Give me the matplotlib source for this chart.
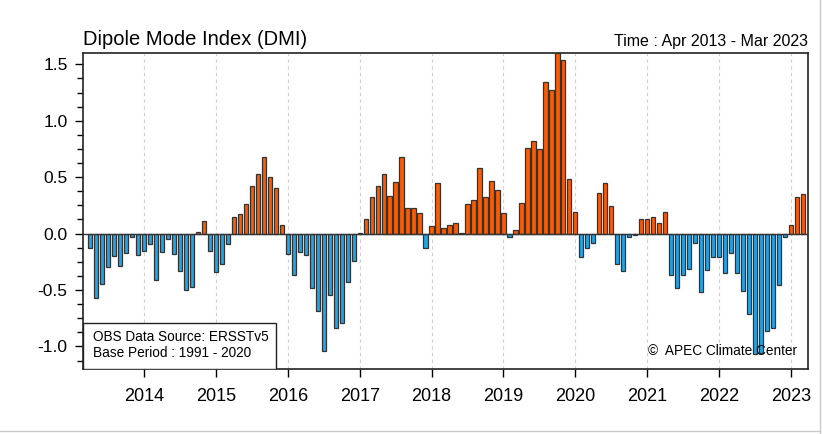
import numpy as np
import matplotlib
matplotlib.use("Agg")
import matplotlib.pyplot as plt
from matplotlib.patches import Rectangle
from matplotlib.lines import Line2D

plt.rcParams['font.family'] = ['Liberation Sans', 'DejaVu Sans']

# monthly DMI, Apr 2013 - Mar 2023
dmi_2013 = [-0.13, -0.57, -0.45, -0.30, -0.20, -0.29, -0.17, -0.03, -0.19]
dmi_2014 = [-0.15, -0.09, -0.41, -0.16, -0.05, -0.18, -0.33, -0.50, -0.47, 0.01, 0.11, -0.15]
dmi_2015 = [-0.34, -0.27, -0.09, 0.15, 0.17, 0.26, 0.42, 0.53, 0.68, 0.50, 0.40, 0.08]
dmi_2016 = [-0.18, -0.37, -0.16, -0.19, -0.48, -0.69, -1.04, -0.54, -0.84, -0.79, -0.43, -0.24]
dmi_2017 = [0.005, 0.13, 0.32, 0.42, 0.53, 0.33, 0.46, 0.68, 0.23, 0.23, 0.18, -0.13]
dmi_2018 = [0.07, 0.45, 0.05, 0.08, 0.09, 0.005, 0.26, 0.30, 0.58, 0.32, 0.47, 0.39]
dmi_2019 = [0.18, -0.03, 0.03, 0.27, 0.76, 0.82, 0.75, 1.34, 1.27, 1.60, 1.54, 0.48]
dmi_2020 = [0.19, -0.21, -0.13, -0.08, 0.36, 0.45, 0.24, -0.27, -0.33, -0.03, -0.01, 0.13]
dmi_2021 = [0.13, 0.15, 0.09, 0.19, -0.37, -0.48, -0.37, -0.31, -0.08, -0.52, -0.32, -0.21]
dmi_2022 = [-0.21, -0.35, -0.17, -0.35, -0.51, -0.71, -1.07, -1.06, -0.86, -0.84, -0.46, -0.03]
dmi_2023 = [0.08, 0.32, 0.35]

years = [2014, 2015, 2016, 2017, 2018, 2019, 2020, 2021, 2022, 2023]

dmi = np.array(dmi_2013 + dmi_2014 + dmi_2015 + dmi_2016 + dmi_2017 +
               dmi_2018 + dmi_2019 + dmi_2020 + dmi_2021 + dmi_2022 + dmi_2023)
months = np.arange(len(dmi))
year_pos = [9 + 12 * k for k in range(len(years))]   # January of each year

POS = '#ff5a00'
NEG = '#1ea5ea'

fig = plt.figure(figsize=(8.22, 4.34), dpi=100)
ax = fig.add_axes([83 / 822, 1 - 369 / 434, 725 / 822, 316 / 434])

colors = [POS if v >= 0 else NEG for v in dmi]
ax.bar(months, dmi, width=0.72, color=colors, edgecolor='#333333',
       linewidth=0.9, zorder=3)
ax.axhline(0, color='#333333', lw=1.0, zorder=4)

for xp in year_pos:
    ax.axvline(xp, color='#cfcfcf', lw=0.8, ls=(0, (3, 3)), zorder=1)

ax.set_xlim(-1.2, 119.85)
ax.set_ylim(-1.2, 1.6)

ax.set_xticks(year_pos)
ax.set_xticklabels([str(y) for y in years], fontsize=13)
yt = [-1.0, -0.5, 0.0, 0.5, 1.0, 1.5]
ax.set_yticks(yt)
ax.set_yticklabels(['%.1f' % v for v in yt], fontsize=12.5)
ax.set_yticks(np.arange(-1.125, 1.6, 0.125), minor=True)
ax.tick_params(axis='y', which='major', direction='out', length=6, width=1, pad=5)
ax.tick_params(axis='y', which='minor', direction='out', length=4, width=1)
ax.tick_params(axis='x', which='major', direction='out', length=6, width=1, pad=8)
for s in ax.spines.values():
    s.set_linewidth(1.2)
    s.set_color('#222222')

ax.text(0.0, 1.012, 'Dipole Mode Index (DMI)', transform=ax.transAxes,
        ha='left', va='bottom', fontsize=14.5)
ax.text(1.0, 1.012, 'Time : Apr 2013 - Mar 2023', transform=ax.transAxes,
        ha='right', va='bottom', fontsize=11.5)

# data source box in the lower-left corner
box = Rectangle((0, 0), (276 - 83) / 725, (369 - 323) / 316, transform=ax.transAxes,
                facecolor='white', edgecolor='#222222', lw=1.0, zorder=5)
ax.add_patch(box)
ax.text(10 / 725, 24 / 316, 'OBS Data Source: ERSSTv5\nBase Period : 1991 - 2020',
        transform=ax.transAxes, ha='left', va='center', fontsize=9.8,
        linespacing=1.2, zorder=6)
ax.text(0.985, 0.035, '\u00a9  APEC Climate Center', transform=ax.transAxes,
        ha='right', va='bottom', fontsize=9.8, zorder=6)

# outer frame lines
fig.add_artist(Line2D([819.5 / 822, 819.5 / 822], [0, 1], color='#c8c8c8', lw=1))
fig.add_artist(Line2D([0, 819.5 / 822], [1 - 430.5 / 434, 1 - 430.5 / 434],
                      color='#c8c8c8', lw=1))

fig.savefig('out.png', dpi=100)
